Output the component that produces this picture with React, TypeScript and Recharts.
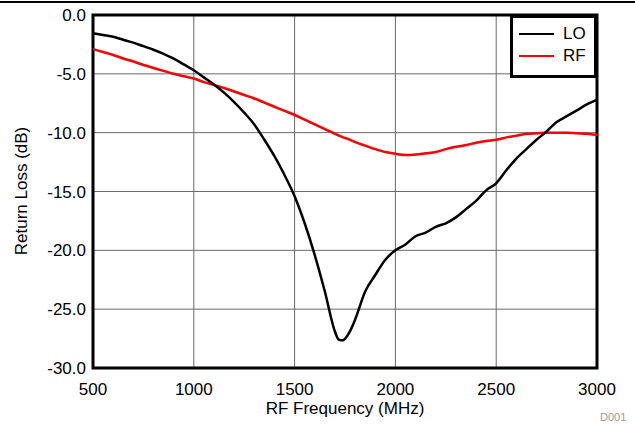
import { CartesianGrid, Line, LineChart, ReferenceArea, XAxis, YAxis } from 'recharts';

// RF frequency sweep (MHz)
const freqs = [
  500, 550, 600, 650, 700, 750, 800, 850, 900, 950,
  1000, 1050, 1100, 1150, 1200, 1250, 1300, 1350, 1400, 1450,
  1500, 1550, 1600, 1650, 1700, 1720, 1740, 1760, 1780, 1800, 1850, 1900, 1950,
  2000, 2050, 2100, 2150, 2200, 2250, 2300, 2350, 2400, 2450,
  2500, 2550, 2600, 2650, 2700, 2750, 2800, 2850, 2900, 2950, 3000
];

// LO port return loss (dB)
const loValues = [
  -1.55, -1.7, -1.85, -2.1, -2.35, -2.65, -2.95, -3.3, -3.7, -4.2,
  -4.7, -5.3, -5.9, -6.6, -7.4, -8.3, -9.3, -10.6, -12.0, -13.6,
  -15.4, -17.7, -20.4, -23.5, -26.9, -27.6, -27.65, -27.3, -26.7, -25.9, -23.5, -22.1, -20.8,
  -20.0, -19.5, -18.8, -18.5, -18.0, -17.7, -17.2, -16.5, -15.8, -14.9,
  -14.3, -13.2, -12.2, -11.4, -10.6, -9.9, -9.1, -8.6, -8.1, -7.6, -7.2
];

// RF port return loss (dB)
const rfValues = [
  -2.9, -3.15, -3.4, -3.7, -3.95, -4.25, -4.5, -4.75, -5.0, -5.2,
  -5.4, -5.7, -5.95, -6.2, -6.5, -6.8, -7.1, -7.45, -7.8, -8.15,
  -8.5, -8.9, -9.3, -9.7, -10.1, -10.25, -10.4, -10.5, -10.65, -10.8, -11.1, -11.4, -11.65,
  -11.8, -11.9, -11.85, -11.75, -11.65, -11.4, -11.2, -11.05, -10.85, -10.7,
  -10.6, -10.4, -10.25, -10.1, -10.05, -10.0, -10.0, -10.0, -10.05, -10.1, -10.2
];

const xTicks = [500, 1000, 1500, 2000, 2500, 3000];
const yTicks = [-30, -25, -20, -15, -10, -5, 0];

const data = freqs.map((f, i) => ({ freq: f, lo: loValues[i], rf: rfValues[i] }));

const font = 'Arial, "Liberation Sans", sans-serif';

function ReturnLossChart() {
  return (
    <div style={{ position: 'absolute', left: 0, top: 0, width: 635, height: 424, fontFamily: font, background: '#fff' }}>
      <div style={{ position: 'absolute', left: 0, top: 1, width: 635, height: 0, borderTop: '2px solid #000' }} />
      <LineChart width={635} height={424} data={data} margin={{ top: 15, right: 38, bottom: 0, left: 0 }}>
        <CartesianGrid stroke='#6a6a6a' strokeWidth={1} />
        <XAxis
          dataKey='freq'
          type='number'
          domain={[500, 3000]}
          ticks={xTicks}
          height={56}
          tickLine={false}
          tickSize={0}
          tickMargin={15}
          axisLine={false}
          tick={{ fill: '#000', fontSize: 17, fontFamily: font }}
        />
        <YAxis
          type='number'
          domain={[-30, 0]}
          ticks={yTicks}
          width={93}
          tickLine={false}
          tickSize={0}
          tickMargin={7}
          axisLine={false}
          tickFormatter={(v: number) => v.toFixed(1)}
          tick={{ fill: '#000', fontSize: 17, fontFamily: font }}
        />
        <Line type='monotone' dataKey='rf' stroke='#ff0000' strokeWidth={2.5} dot={false} isAnimationActive={false} />
        <Line type='monotone' dataKey='lo' stroke='#000' strokeWidth={2.5} dot={false} isAnimationActive={false} />
        <ReferenceArea x1={500} x2={3000} y1={-30} y2={0} fill='none' stroke='#000' strokeWidth={3} />
      </LineChart>

      <div
        style={{
          position: 'absolute',
          left: 510,
          top: 15,
          width: 81,
          height: 57,
          border: '3px solid #000',
          background: '#fff',
          fontSize: 17
        }}
      >
        {[
          { name: 'LO', color: '#000' },
          { name: 'RF', color: '#ff0000' }
        ].map((item) => (
          <div key={item.name} style={{ display: 'flex', alignItems: 'center', height: 22, marginTop: item.name === 'LO' ? 5 : 0 }}>
            <span style={{ display: 'inline-block', marginLeft: 6, width: 35, height: 0, borderTop: `2.5px solid ${item.color}` }} />
            <span style={{ marginLeft: 9, lineHeight: '20px' }}>{item.name}</span>
          </div>
        ))}
      </div>

      <div style={{ position: 'absolute', left: 93, top: 399, width: 504, textAlign: 'center', fontSize: 17, lineHeight: '20px' }}>
        RF Frequency (MHz)
      </div>
      <div
        style={{
          position: 'absolute',
          left: 22,
          top: 191,
          transform: 'translate(-50%, -50%) rotate(-90deg)',
          whiteSpace: 'nowrap',
          fontSize: 17,
          lineHeight: '20px'
        }}
      >
        Return Loss (dB)
      </div>
      <div style={{ position: 'absolute', left: 600, top: 411, fontSize: 11, color: '#999' }}>D001</div>
    </div>
  );
}

export default ReturnLossChart;
